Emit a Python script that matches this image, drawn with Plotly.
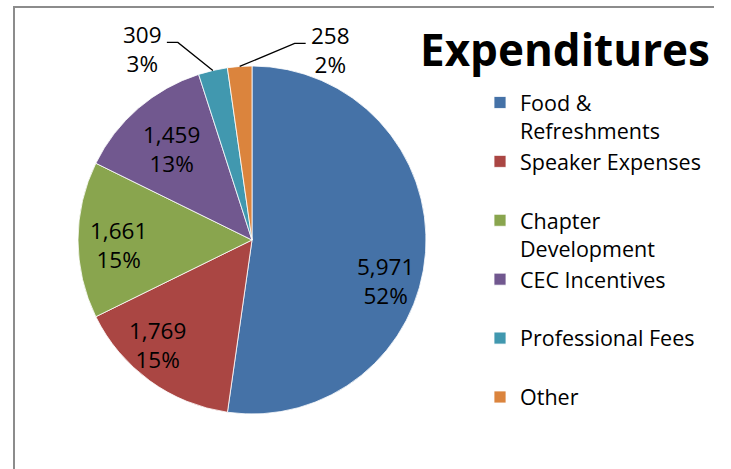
import math
import plotly.graph_objects as go

# ---- data ----
categories = ["Food &<br>Refreshments", "Speaker Expenses<br> ", "Chapter<br>Development",
              "CEC Incentives<br> ", "Professional Fees<br> ", "Other<br> "]
values = [5971, 1769, 1661, 1459, 309, 258]
colors = ["#4572A7", "#AA4643", "#89A54E", "#71588F", "#4198AF", "#DB843D"]
title_text = "Expenditures"

# ---- layout constants (pixels) ----
W, H = 731, 469
CX, CY, R = 252, 240, 174
FONT = "'Open Sans', sans-serif"
LABEL_R = 0.78
# pixel nudges of inside labels (layout only)
inside_nudge = {0: (-2, 31), 1: (-15, -5), 2: (2, 5), 3: (8, 12)}
# leader-line geometry of outside labels: (elbow dx, elbow dy, horizontal run)
outside_geo = {4: (-35, -28, -11), 5: (55, -23, 11)}

def px(x):
    return x / W

def py(y):
    return 1 - y / H

total = sum(values)
inside = [v / total >= 0.05 for v in values]

fig = go.Figure(go.Pie(
    labels=categories,
    values=values,
    sort=False,
    direction="clockwise",
    rotation=0,
    marker=dict(colors=colors, line=dict(color="white", width=0.8)),
    textinfo="none",
    hoverinfo="label+value+percent",
    domain=dict(x=[px(CX - R), px(CX + R)], y=[py(CY + R), py(CY - R)]),
))

shapes = []
annotations = []
cum = 0
for i, v in enumerate(values):
    start = cum
    cum += v
    mid = (start + v / 2) / total * 2 * math.pi
    pct = round(v / total * 100)
    txt = f"{v:,}<br>{pct}%"
    if inside[i]:
        nx, ny = inside_nudge.get(i, (0, 0))
        lx = CX + LABEL_R * R * math.sin(mid) + nx
        ly = CY - LABEL_R * R * math.cos(mid) + ny
        annotations.append(dict(xref="paper", yref="paper", x=px(lx), y=py(ly),
                                xanchor="center", yanchor="middle", text=txt, align="center",
                                showarrow=False, font=dict(family=FONT, size=22.5, color="black")))
        continue
    ex = CX + R * math.sin(mid)
    ey = CY - R * math.cos(mid)
    dx, dy, hx = outside_geo[i]
    bx, by = ex + dx, ey + dy
    tx = bx + hx
    shapes.append(dict(type="path", xref="paper", yref="paper",
                       path=f"M{px(ex)},{py(ey)} L{px(bx)},{py(by)} L{px(tx)},{py(by)}",
                       line=dict(color="black", width=1.3)))
    annotations.append(dict(
        xref="paper", yref="paper",
        x=px(tx + (-3 if hx < 0 else 3)), y=py(by + 7),
        xanchor="right" if hx < 0 else "left", yanchor="middle",
        text=txt, align="center", showarrow=False,
        font=dict(family=FONT, size=22.5, color="black")))

# chart frame (top and left edges)
shapes.append(dict(type="line", xref="paper", yref="paper", x0=px(13), x1=px(714),
                   y0=py(7), y1=py(7), line=dict(color="#8c8c8c", width=2)))
shapes.append(dict(type="line", xref="paper", yref="paper", x0=px(14), x1=px(14),
                   y0=py(7), y1=py(H + 2), line=dict(color="#8c8c8c", width=2)))

fig.update_layout(
    width=W, height=H,
    margin=dict(l=0, r=0, t=0, b=0),
    paper_bgcolor="white",
    plot_bgcolor="white",
    title=dict(text=f"<b>{title_text}</b>", x=px(565), y=py(51), xanchor="center", yanchor="middle",
               xref="paper", yref="paper", font=dict(family=FONT, size=44, color="black")),
    legend=dict(x=px(480), y=py(82), xanchor="left", yanchor="top", valign="top",
                font=dict(family=FONT, size=21.5, color="black"), itemwidth=30,
                tracegroupgap=0, bgcolor="rgba(0,0,0,0)"),
    shapes=shapes,
    annotations=annotations,
    showlegend=True,
)

fig.write_html("out.html", config={"displayModeBar": False},
               post_script="document.body.style.margin='0';")
